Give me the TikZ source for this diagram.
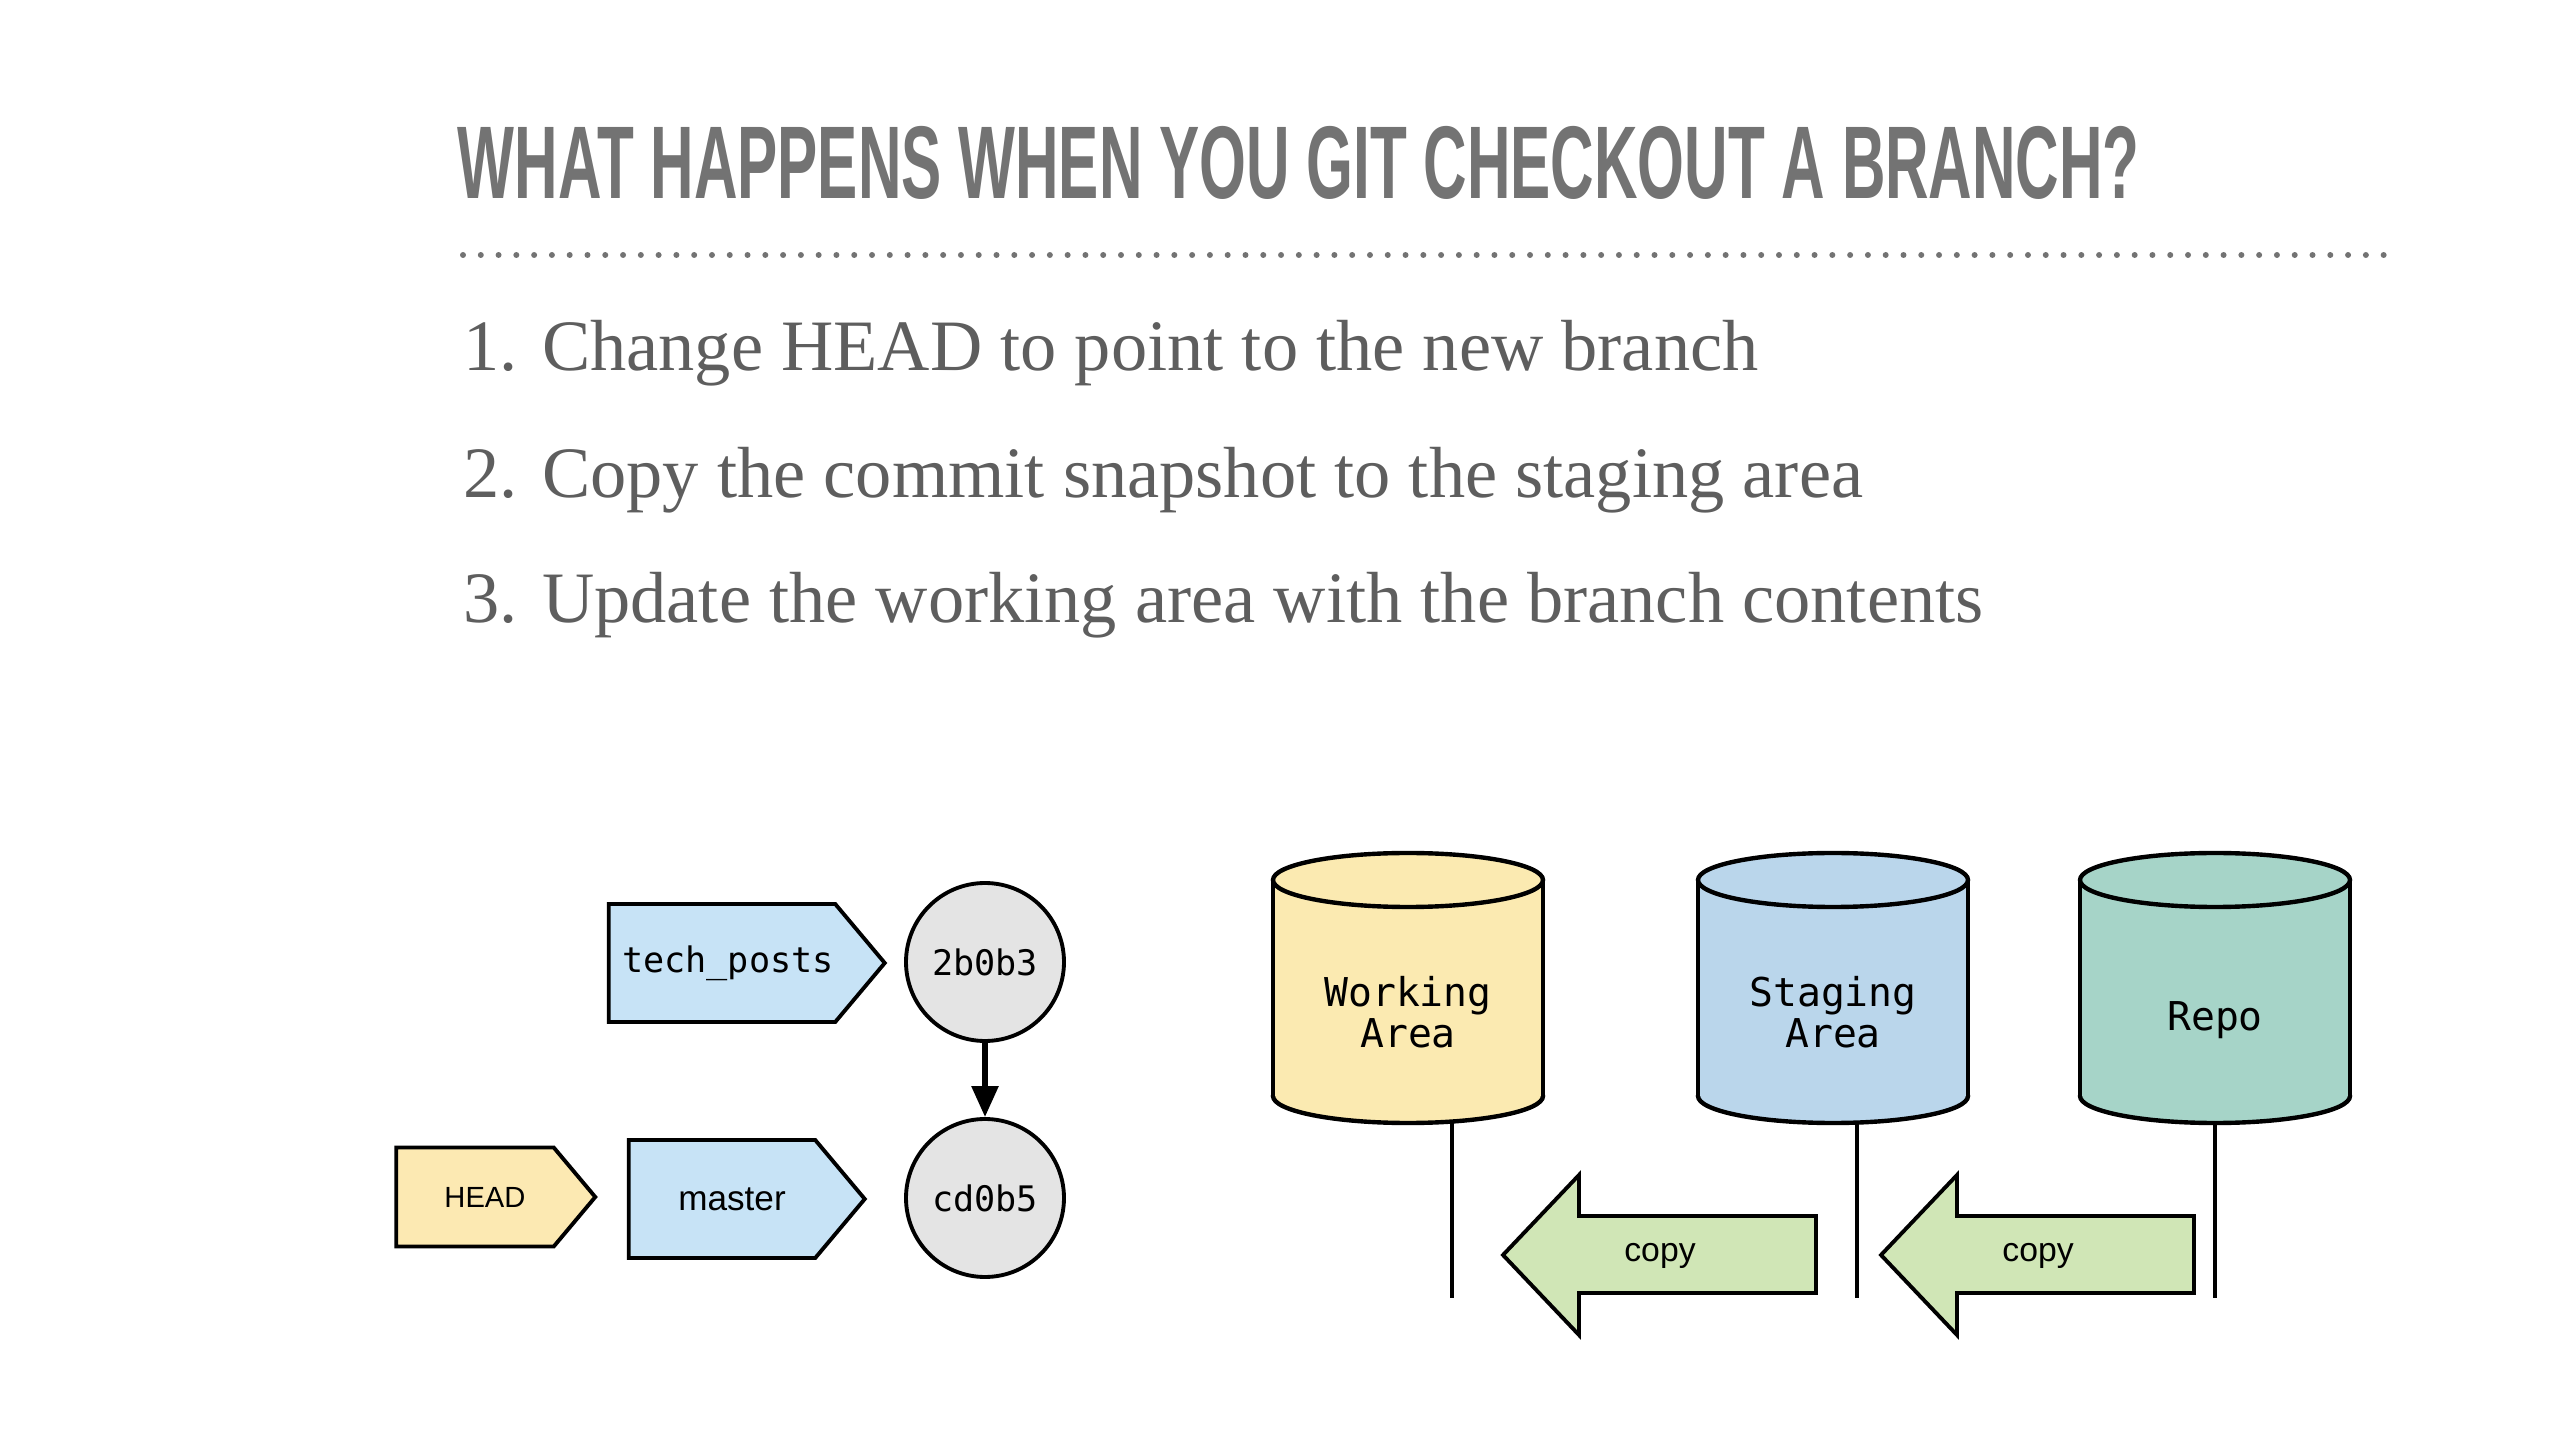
\documentclass[tikz,border=0pt]{standalone}
\usepackage{fontspec}
\setmainfont{Liberation Serif}
\newfontfamily\titlefont[FakeStretch=0.583]{Liberation Sans}
\newfontfamily\labelfont{Liberation Sans}
\newfontfamily\hashfont{DejaVu Sans Mono}
\usetikzlibrary{arrows.meta}
\usetikzlibrary{shapes.symbols}

\definecolor{titlegray}{HTML}{737373}
\definecolor{textgray}{HTML}{5E5E5E}
\definecolor{branchblue}{HTML}{C7E3F6}
\definecolor{headyellow}{HTML}{FCE9B2}
\definecolor{commitgray}{HTML}{E4E4E4}
\definecolor{workyellow}{HTML}{FBEAB1}
\definecolor{stageblue}{HTML}{BAD6EB}
\definecolor{repogreen}{HTML}{A6D4C8}
\definecolor{copygreen}{HTML}{D0E6B6}

\tikzset{
  branch/.style={signal, signal to=east, signal pointer angle=100, draw=black,
    line width=1.1pt, fill=branchblue, inner sep=0pt},
  commit/.style={circle, draw=black, line width=1.1pt, fill=commitgray,
    minimum size=15.8mm, inner sep=0pt, font=\hashfont\fontsize{10pt}{12pt}\selectfont},
  barrel/.style={draw=black, line width=1.25pt},
  rail/.style={draw=black, line width=1pt},
  copyshape/.style={draw=black, line width=1.1pt, fill=copygreen},
  step text/.style={anchor=base west, text=textgray, font=\fontsize{20.6pt}{24pt}\selectfont}
}

\begin{document}
\begin{tikzpicture}[x=0.1mm, y=-0.1mm]
  \useasboundingbox (0,0) rectangle (2560,1440);

  % heading
  \node[anchor=base west, inner sep=0pt, text=titlegray,
    font=\titlefont\bfseries\fontsize{29.4pt}{32pt}\selectfont] (title) at (457,199)
    {WHAT HAPPENS WHEN YOU GIT CHECKOUT A BRANCH?};
  \draw[titlegray, line width=1.7pt, line cap=round, dash pattern=on 0pt off 5.06pt]
    (463,255) -- (2394,255);

  \node[step text, inner sep=0pt] (stepone) at (463,371) {1. Change HEAD to point to the new branch};
  \node[step text, inner sep=0pt] (steptwo) at (463,498) {2. Copy the commit snapshot to the staging area};
  \node[step text, inner sep=0pt] (stepthree) at (463,623) {3. Update the working area with the branch contents};

  % commits and refs
  \node[commit] (c2b0b3) at (985,962) {2b0b3};
  \node[commit] (ccd0b5) at (985,1198) {cd0b5};
  \draw[line width=1.6pt, -{Triangle[length=3.1mm, width=2.6mm]}] (c2b0b3) -- (ccd0b5);

  \node[branch, minimum width=27.6mm, minimum height=11.8mm,
    font=\hashfont\fontsize{10pt}{12pt}\selectfont] (techposts) at (722,963) {\hspace*{1.2mm}tech\_posts};
  \node[branch, minimum width=23.6mm, minimum height=11.8mm,
    font=\labelfont\fontsize{10pt}{12pt}\selectfont] (master) at (722,1199) {\hspace*{2mm}master};
  \node[branch, fill=headyellow, minimum width=19.9mm, minimum height=9.9mm,
    font=\labelfont\fontsize{8.3pt}{10pt}\selectfont] (head) at (475,1197) {\hspace*{2mm}HEAD};

  % the three areas
  \foreach \cx/\ty/\col/\nm/\txt in {1408/1012/workyellow/work/{Working\\Area},
      1833/1012/stageblue/stage/{Staging\\Area}, 2215/1020/repogreen/repo/{Repo}} {
    \filldraw[barrel, fill=\col] (\cx,1096) ellipse [x radius=135, y radius=27];
    \fill[\col] (\cx-135,880) rectangle (\cx+135,1096);
    \draw[barrel] (\cx-135,880) -- (\cx-135,1096) (\cx+135,880) -- (\cx+135,1096);
    \filldraw[barrel, fill=\col] (\cx,880) ellipse [x radius=135, y radius=27];
    \node[align=center, font=\hashfont\fontsize{11.3pt}{11.5pt}\selectfont] (\nm) at (\cx,\ty) {\txt};
  }

  \coordinate (worktop) at (1452,1121);
  \coordinate (workend) at (1452,1298);
  \coordinate (stagetop) at (1857,1122);
  \coordinate (stageend) at (1857,1298);
  \coordinate (repotop) at (2215,1123);
  \coordinate (repoend) at (2215,1298);
  \draw[rail] (worktop) -- (workend);
  \draw[rail] (stagetop) -- (stageend);
  \draw[rail] (repotop) -- (repoend);

  % copy arrows
  \foreach \dx/\nm in {0/copyone, 378/copytwo} {
    \draw[copyshape] (1816+\dx,1216) -- (1579+\dx,1216) -- (1579+\dx,1175) -- (1503+\dx,1255)
      -- (1579+\dx,1335) -- (1579+\dx,1293) -- (1816+\dx,1293) -- cycle;
    \node[font=\labelfont\fontsize{9.6pt}{11pt}\selectfont] (\nm) at (1660+\dx,1256) {copy};
  }
\end{tikzpicture}
\end{document}
